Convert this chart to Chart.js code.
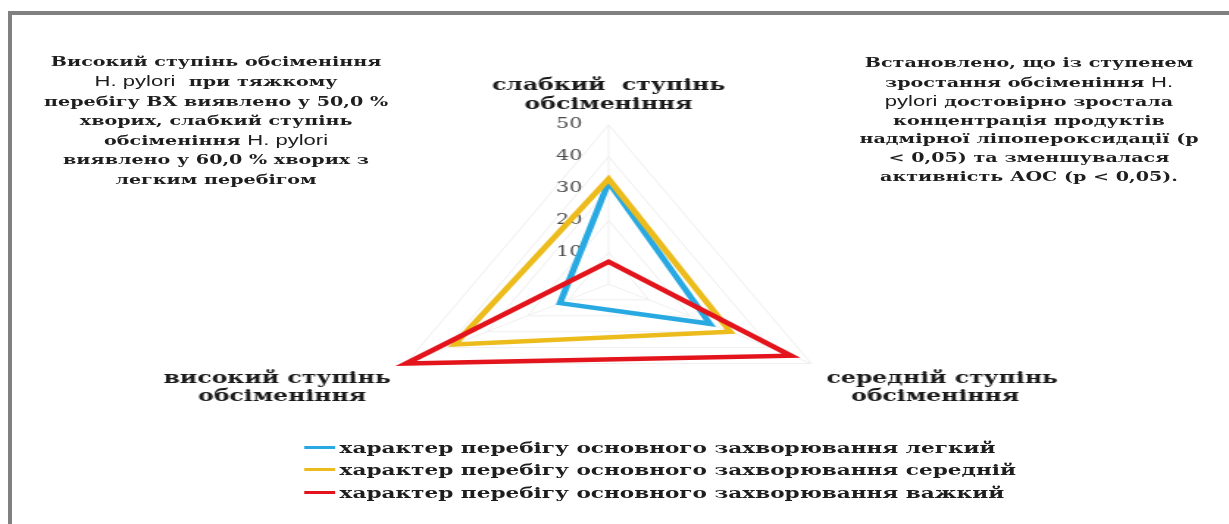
<!DOCTYPE html>
<html lang="uk">
<head>
<meta charset="utf-8">
<title>Ступінь обсіменіння H. pylori</title>
<script src="https://cdn.jsdelivr.net/npm/chart.js@4.4.1/dist/chart.umd.min.js"></script>
<style>
  html, body { margin: 0; padding: 0; background: #fff; }
  body { width: 1229px; height: 524px; position: relative; overflow: hidden; }
  .frame-top { position: absolute; left: 8px; top: 11px; width: 1221px; height: 4px; background: #808080; }
  .frame-left { position: absolute; left: 8px; top: 11px; width: 4px; height: 513px; background: #808080; }
  /* the original picture is stretched sideways, so the whole sheet is too */
  #wrap { position: absolute; left: 0; top: 0; width: 836px; height: 524px; transform: scaleX(1.47); transform-origin: 0 0; }
  .note { position: absolute; width: 300px; text-align: center; font-family: 'DejaVu Serif'; font-weight: bold;
          font-size: 13px; color: #1e1e1e; white-space: nowrap; }
  .note .lat { font-family: 'Liberation Sans'; font-weight: normal; font-size: 15px; }
  #noteLeft { left: -3px; top: 52px; line-height: 19.3px; }
  #noteRight { left: 550px; top: 54px; line-height: 18.6px; }
  #chart { position: absolute; left: 13.6px; top: 58px; }
  #legend { position: absolute; left: 207px; top: 436px; font-family: 'DejaVu Serif'; font-weight: bold;
            font-size: 14.7px; color: #1e1e1e; white-space: nowrap; }
  .lg-row { height: 22.5px; display: flex; align-items: center; }
  .lg-line { width: 21px; height: 3px; margin-right: 3px; }
</style>
</head>
<body>
<div class="frame-top"></div>
<div class="frame-left"></div>
<div id="wrap">
  <div class="note" id="noteLeft">
    Високий ступінь обсіменіння<br>
    <span class="lat">H. pylori</span>&nbsp; при тяжкому<br>
    перебігу ВХ виявлено у 50,0 %<br>
    хворих, слабкий ступінь<br>
    обсіменіння <span class="lat">H. pylori</span><br>
    виявлено у 60,0 % хворих з<br>
    легким перебігом
  </div>
  <div class="note" id="noteRight">
    Встановлено, що із ступенем<br>
    зростання обсіменіння <span class="lat">H.</span><br>
    <span class="lat">pylori</span> достовірно зростала<br>
    концентрація продуктів<br>
    надмірної ліпопероксидації (p<br>
    &lt; 0,05) та зменшувалася<br>
    активність АОС (p &lt; 0,05).
  </div>
  <canvas id="chart" width="800" height="414"></canvas>
  <div id="legend"></div>
</div>

<script>
const axisLabels = [
    ['слабкий  ступінь', 'обсіменіння'],
    ['середній ступінь', '\u00a0\u00a0\u00a0обсіменіння'],
    ['високий ступінь', 'обсіменіння\u00a0\u00a0\u00a0']
];
const seriesNames = [
    'характер перебігу основного захворювання легкий',
    'характер перебігу основного захворювання середній',
    'характер перебігу основного захворювання важкий'
];
const mildValues = [32, 25, 12];
const moderateValues = [33, 30, 38];
const severeValues = [7, 45, 50];
const seriesColors = ['#29a9e1', '#ecbb1c', '#e3141b'];

const allValues = [mildValues, moderateValues, severeValues];

let datasets = seriesNames.map((name, i) => ({
    label: name,
    data: allValues[i],
    borderColor: seriesColors[i],
    backgroundColor: seriesColors[i],
    fill: false,
    borderWidth: 4.5,
    pointRadius: 0,
    pointHoverRadius: 0,
    tension: 0,
    order: 2 - i
}));

let legendBox = document.getElementById('legend');
datasets.forEach(ds => {
    let row = document.createElement('div');
    row.className = 'lg-row';
    let line = document.createElement('span');
    line.className = 'lg-line';
    line.style.background = ds.borderColor;
    let text = document.createElement('span');
    text.textContent = ds.label;
    row.appendChild(line);
    row.appendChild(text);
    legendBox.appendChild(row);
});

new Chart(document.getElementById('chart').getContext('2d'), {
    type: 'radar',
    data: {
        labels: axisLabels,
        datasets: datasets
    },
    options: {
        responsive: false,
        animation: false,
        layout: { padding: 0 },
        plugins: {
            legend: { display: false },
            tooltip: { enabled: false }
        },
        scales: {
            r: {
                min: 0,
                max: 50,
                ticks: {
                    stepSize: 10,
                    showLabelBackdrop: false,
                    color: '#4a4a4a',
                    font: { family: 'DejaVu Serif', size: 14 },
                    // labels sit left of the axis in the original
                    callback: v => v + '\u2007'.repeat(6)
                },
                grid: { color: '#efefef', lineWidth: 1 },
                angleLines: { color: '#efefef', lineWidth: 1 },
                pointLabels: {
                    color: '#1a1a1a',
                    padding: ctx => ctx.index === 0 ? 2 : 3,
                    font: { family: 'DejaVu Serif', size: 16, weight: 'bold', lineHeight: 1.15 }
                }
            }
        }
    }
});
</script>
</body>
</html>
